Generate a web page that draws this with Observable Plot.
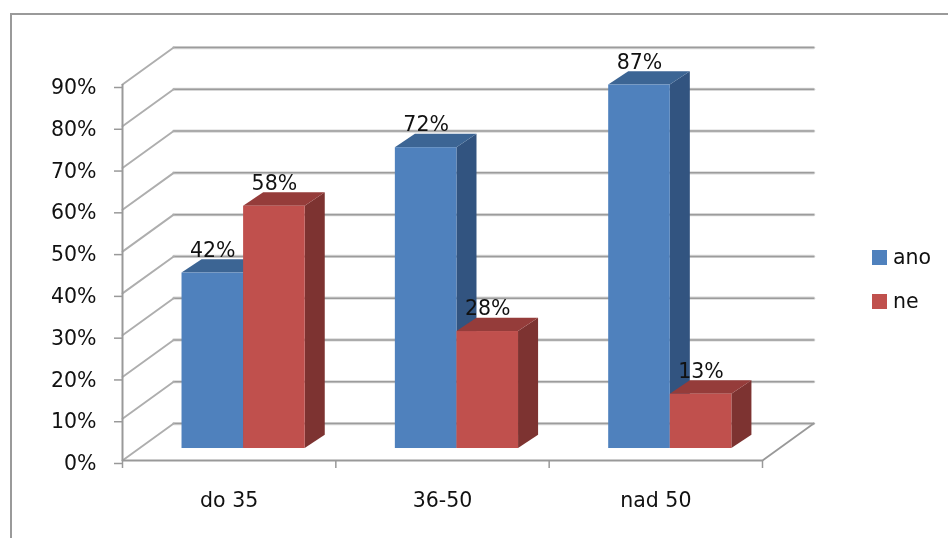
<!DOCTYPE html>
<html>
<head>
<meta charset="utf-8">
<script src="https://cdn.jsdelivr.net/npm/d3@7"></script>
<script src="https://cdn.jsdelivr.net/npm/@observablehq/plot@0.6"></script>
<style>
html,body{margin:0;padding:0;background:#fff;width:948px;height:538px;overflow:hidden}
#wrap{position:relative;width:948px;height:538px}
#frame{position:absolute;left:10px;top:13px;right:-5px;bottom:-5px;border:2px solid #9a9a9a;box-sizing:border-box}
#chart{position:absolute;left:0;top:0}
#chart svg{filter:blur(.4px)}
.leg{position:absolute;left:872px;display:flex;align-items:center;font:20.5px "DejaVu Sans",sans-serif;color:#111;filter:blur(.3px)}
.leg i{display:block;width:15px;height:15px;margin-right:6px}
</style>
</head>
<body>
<div id="wrap"><div id="frame"></div><div id="chart"></div>
<div class="leg" style="top:245px"><i style="background:#4F81BD"></i>ano</div>
<div class="leg" style="top:289px"><i style="background:#C0504D"></i>ne</div>
</div>
<script>
const categories = ["do 35", "36-50", "nad 50"];
const ano = [42, 72, 87];
const ne = [58, 28, 13];
const yTicks = [0, 10, 20, 30, 40, 50, 60, 70, 80, 90];
const colours = {ano: ["#4F81BD", "#325480", "#3C6594"], ne: ["#C0504D", "#7D3331", "#953C3A"]};

// 3D projection expressed in scale units
const wallDx = 0.24, wallDy = 8.85;       // depth of the floor
const barDx = 0.094, barDy = 3.2;         // depth of a bar
const barStart = 0.279, barW = 0.2887, barBase = 2.87;

const bars = [];
categories.forEach((c, i) => {
  bars.push({c, s: "ano", v: ano[i], x1: i + barStart, x2: i + barStart + barW});
  bars.push({c, s: "ne", v: ne[i], x1: i + barStart + barW, x2: i + barStart + 2 * barW});
});
const xMax = categories.length;

const backLine = yTicks.flatMap(t => [
  {t, x: wallDx, y: t + wallDy},
  {t, x: xMax + wallDx, y: t + wallDy}
]);
const sideLine = yTicks.flatMap(t => [
  {t, x: 0, y: t},
  {t, x: wallDx, y: t + wallDy}
]);
const floor = [{x: 0, y: 0}, {x: xMax, y: 0}, {x: xMax + wallDx, y: wallDy}];

const barMarks = bars.flatMap(b => {
  const [front, side, top] = colours[b.s];
  return [
    Plot.areaY([
      {x: b.x2, y1: barBase, y2: b.v + barBase},
      {x: b.x2 + barDx, y1: barBase + barDy, y2: b.v + barBase + barDy}
    ], {x: "x", y1: "y1", y2: "y2", fill: side}),
    Plot.areaX([
      {y: b.v + barBase, x1: b.x1, x2: b.x2},
      {y: b.v + barBase + barDy, x1: b.x1 + barDx, x2: b.x2 + barDx}
    ], {y: "y", x1: "x1", x2: "x2", fill: top}),
    Plot.rect([b], {x1: "x1", x2: "x2", y1: () => barBase, y2: d => d.v + barBase, fill: front})
  ];
});

const font = '"DejaVu Sans", sans-serif';
const plot = Plot.plot({
  width: 948, height: 538,
  marginLeft: 122, marginRight: 186, marginTop: 84, marginBottom: 78,
  style: {background: "transparent", fontFamily: font, fontSize: "20.5px", color: "#111", overflow: "visible"},
  x: {type: "linear", domain: [0, xMax]},
  y: {type: "linear", domain: [0, 90]},
  marks: [
    Plot.line(backLine, {x: "x", y: "y", z: "t", stroke: "#d8d8d8", strokeWidth: 3.2}),
    Plot.line(backLine, {x: "x", y: "y", z: "t", stroke: "#9c9c9c", strokeWidth: 1.5}),
    Plot.line(sideLine, {x: "x", y: "y", z: "t", stroke: "#aeaeae", strokeWidth: 1.9}),
    Plot.line(floor, {x: "x", y: "y", stroke: "#999", strokeWidth: 1.8}),
    Plot.ruleX([0], {y1: 0, y2: 90, stroke: "#999", strokeWidth: 2}),
    Plot.axisY({ticks: yTicks, tickFormat: d => d + "%", label: null, tickSize: 8, tickPadding: 18,
      stroke: "#999", fill: "#111", strokeWidth: 1.5, dy: 3}),
    Plot.axisX({ticks: d3.range(xMax + 1), tickFormat: () => "", label: null, tickSize: 8, stroke: "#999", strokeWidth: 1.5}),
    Plot.axisX({ticks: categories.map((c, i) => i + 0.5), tickFormat: d => categories[d - 0.5], label: null,
      tickSize: 0, tickPadding: 32, fill: "#111"}),
    ...barMarks,
    Plot.text(bars, {x: d => (d.x1 + d.x2) / 2, y: d => d.v + barBase, text: d => d.v + "%",
      dy: -23, fill: "#111", fontSize: 20.5})
  ]
});
document.getElementById("chart").appendChild(plot);
</script>
</body>
</html>
